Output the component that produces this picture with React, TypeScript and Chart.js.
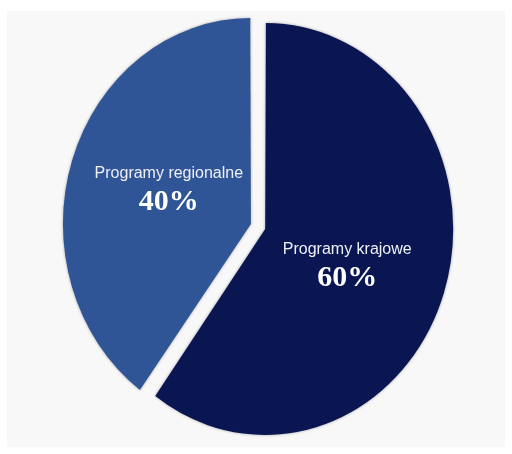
import React, { useEffect, useRef } from "react";
import { Chart, registerables } from "chart.js";

Chart.register(...registerables);

const categories = ["Programy krajowe", "Programy regionalne"];
const values = [60, 40];
const valueLabels = ["60%", "40%"];
const colors = ["#0a1652", "#2f5597"];

const Y_STRETCH = 206 / 188;
// explode offsets (px) per slice; Chart.js divides arc offset by 4
const OFFSETS_PX = [4.4, 10.6];

const stretchPlugin = {
  id: "stretch",
  beforeDatasetsDraw(chart: any) {
    const ctx = chart.ctx;
    const a = chart.chartArea;
    const cx = (a.left + a.right) / 2;
    const cy = (a.top + a.bottom) / 2;
    ctx.save();
    ctx.translate(cx, cy);
    ctx.scale(1, Y_STRETCH);
    ctx.translate(-cx, -cy);
    ctx.shadowColor = "rgba(0,0,0,0.35)";
    ctx.shadowBlur = 3;
  },
  afterDatasetsDraw(chart: any) {
    const ctx = chart.ctx;
    ctx.restore();
    const a = chart.chartArea;
    const cy = (a.top + a.bottom) / 2;
    const meta = chart.getDatasetMeta(0);
    meta.data.forEach((arc: any, i: number) => {
      const p = arc.getProps(["x", "y", "startAngle", "endAngle", "outerRadius"], true);
      const mid = (p.startAngle + p.endAngle) / 2;
      const r = p.outerRadius * 0.47 + OFFSETS_PX[i];
      const px = p.x + Math.cos(mid) * r;
      const py = cy + (p.y + Math.sin(mid) * r - cy) * Y_STRETCH * 1.2;
      ctx.save();
      ctx.textAlign = "center";
      ctx.textBaseline = "alphabetic";
      ctx.fillStyle = "#eef0f6";
      ctx.font = "16px 'Liberation Sans', Arial, sans-serif";
      ctx.fillText(categories[i], px, py - 10);
      ctx.fillStyle = "#ffffff";
      ctx.font = "bold 30px 'Liberation Serif', 'Times New Roman', serif";
      ctx.fillText(valueLabels[i], px, py + 22);
      ctx.restore();
    });
  },
};

export default function App() {
  const ref = useRef<HTMLCanvasElement | null>(null);
  useEffect(() => {
    if (!ref.current) return;
    const chart = new Chart(ref.current, {
      type: "pie",
      data: {
        labels: categories,
        datasets: [
          {
            data: values,
            backgroundColor: colors,
            borderWidth: 0,
            borderColor: "rgba(0,0,0,0)",
            offset: OFFSETS_PX.map((o) => o * 4),
            hoverOffset: 0,
            clip: false as any,
          } as any,
        ],
      },
      options: {
        animation: false,
        responsive: false,
        radius: 183.6,
        layout: { padding: { left: 10, right: 0, top: 0, bottom: 3 } },
        plugins: {
          legend: { display: false },
          tooltip: { enabled: false },
        },
        events: [],
      } as any,
      plugins: [stretchPlugin],
    });
    return () => chart.destroy();
  }, []);
  return (
    <div
      style={{
        position: "absolute",
        left: 7,
        top: 11,
        width: 498,
        height: 436,
        background: "#f8f8f8",
      }}
    >
      <canvas ref={ref} width={498} height={436} style={{ display: "block" }} />
    </div>
  );
}
